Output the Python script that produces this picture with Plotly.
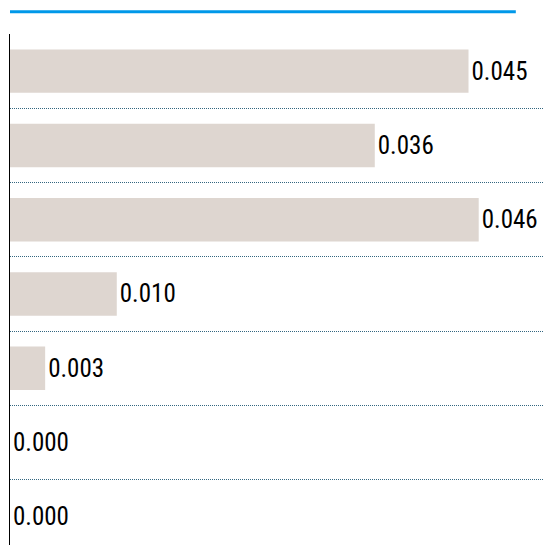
import plotly.graph_objects as go

categories = ["A", "B", "C", "D", "E", "F", "G"]
values = [0.045, 0.0358, 0.0460, 0.01048, 0.00345, 0.0, 0.0]

bar_color = "#ded6d0"
positions = list(range(len(categories)))

fig = go.Figure()
fig.add_trace(go.Bar(
    x=values,
    y=positions,
    orientation="h",
    marker=dict(color=bar_color, line=dict(width=0)),
    width=0.585,
    texttemplate="%{x:.3f}",
    textposition="outside",
    textfont=dict(family="Roboto Condensed, sans-serif", size=25, color="#000000"),
    cliponaxis=False,
    hovertext=categories,
    hoverinfo="text+x",
))

fig.update_layout(
    width=550,
    height=545,
    margin=dict(l=10, r=7, t=34, b=0),
    paper_bgcolor="white",
    plot_bgcolor="white",
    showlegend=False,
    xaxis=dict(
        range=[0, 0.05231],
        showgrid=False,
        zeroline=False,
        showticklabels=False,
        showline=False,
        ticks="",
    ),
    yaxis=dict(
        range=[6.38, -0.5],
        tickvals=[i + 0.5 for i in positions[:-1]],
        showticklabels=False,
        ticks="",
        showgrid=True,
        gridcolor="#336680",
        griddash="1px,1px",
        gridwidth=1,
        zeroline=False,
        showline=True,
        linecolor="#000000",
        linewidth=1,
    ),
    shapes=[dict(
        type="line",
        xref="paper", yref="paper",
        x0=0, x1=0.949, y0=1.0434, y1=1.0434,
        line=dict(color="#0098e9", width=3),
    )],
)

fig.write_html("out.html")
